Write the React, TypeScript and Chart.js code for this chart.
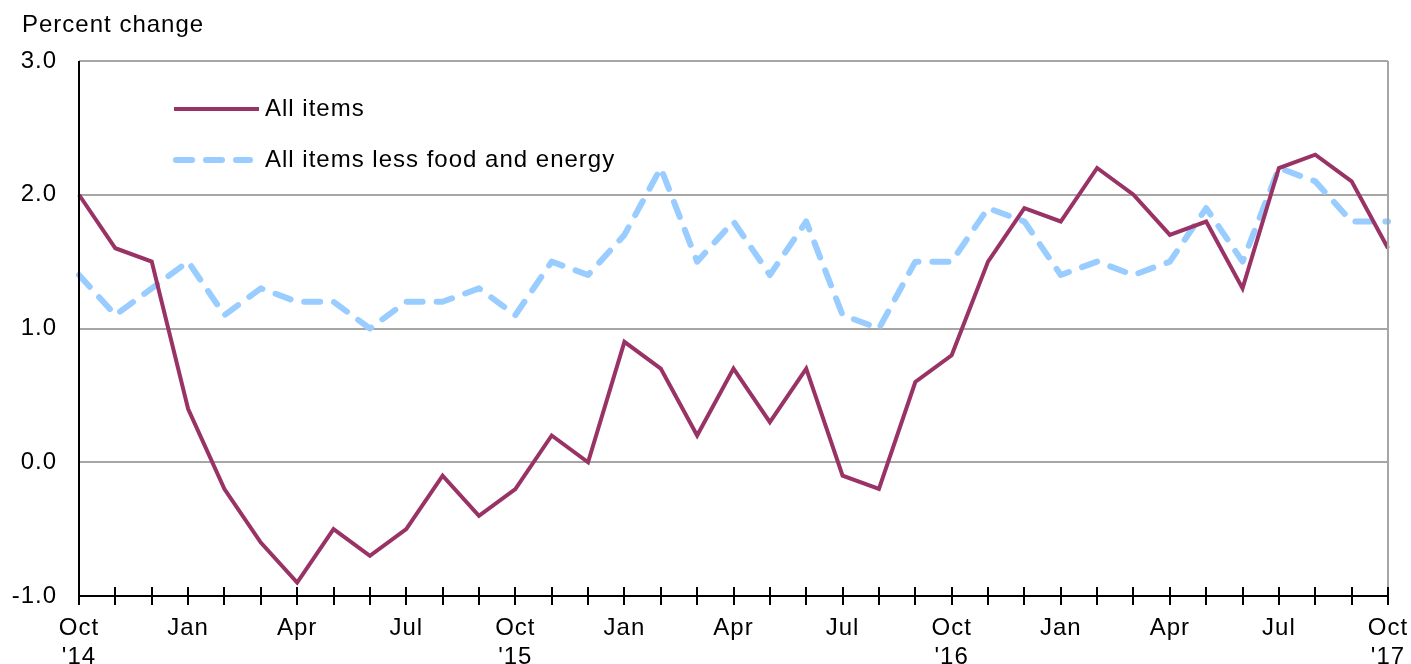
import React, { useEffect, useRef } from "react";
import { Chart, registerables } from "chart.js";

Chart.register(...registerables);

const categories = [
  "2014-10", "2014-11", "2014-12",
  "2015-01", "2015-02", "2015-03", "2015-04", "2015-05", "2015-06",
  "2015-07", "2015-08", "2015-09", "2015-10", "2015-11", "2015-12",
  "2016-01", "2016-02", "2016-03", "2016-04", "2016-05", "2016-06",
  "2016-07", "2016-08", "2016-09", "2016-10", "2016-11", "2016-12",
  "2017-01", "2017-02", "2017-03", "2017-04", "2017-05", "2017-06",
  "2017-07", "2017-08", "2017-09", "2017-10",
];

const tickLabels: (string | string[])[] = [
  ["Oct", "'14"], "", "",
  "Jan", "", "", "Apr", "", "", "Jul", "", "", ["Oct", "'15"], "", "",
  "Jan", "", "", "Apr", "", "", "Jul", "", "", ["Oct", "'16"], "", "",
  "Jan", "", "", "Apr", "", "", "Jul", "", "", ["Oct", "'17"],
];

const allItems = [
  2.0, 1.6, 1.5,
  0.4, -0.2, -0.6, -0.9, -0.5, -0.7, -0.5, -0.1, -0.4, -0.2, 0.2, 0.0,
  0.9, 0.7, 0.2, 0.7, 0.3, 0.7, -0.1, -0.2, 0.6, 0.8, 1.5, 1.9,
  1.8, 2.2, 2.0, 1.7, 1.8, 1.3, 2.2, 2.3, 2.1, 1.6,
];

const coreItems = [
  1.4, 1.1, 1.3,
  1.5, 1.1, 1.3, 1.2, 1.2, 1.0, 1.2, 1.2, 1.3, 1.1, 1.5, 1.4,
  1.7, 2.2, 1.5, 1.8, 1.4, 1.8, 1.1, 1.0, 1.5, 1.5, 1.9, 1.8,
  1.4, 1.5, 1.4, 1.5, 1.9, 1.5, 2.2, 2.1, 1.8, 1.8,
];

const seriesNames = ["All items", "All items less food and energy"];
const yTitle = "Percent change";

const FONT = "'Liberation Sans', Arial, sans-serif";
const FONT_SIZE = 24;
const MAROON = "#993366";
const LIGHTBLUE = "#99CCFF";

const decorPlugin = {
  id: "decor",
  beforeDraw(chart: any) {
    const ctx = chart.ctx;
    try { ctx.letterSpacing = "1px"; } catch (e) { /* ignore */ }
  },
  afterDraw(chart: any) {
    const ctx = chart.ctx;
    const area = chart.chartArea;
    const xs = chart.scales.x;
    ctx.save();
    // right border
    ctx.strokeStyle = "#a6a6a6";
    ctx.lineWidth = 2;
    ctx.beginPath();
    ctx.moveTo(area.right, area.top);
    ctx.lineTo(area.right, area.bottom);
    ctx.stroke();
    // axes
    ctx.strokeStyle = "#000";
    ctx.lineWidth = 2;
    ctx.beginPath();
    ctx.moveTo(area.left, area.top);
    ctx.lineTo(area.left, area.bottom);
    ctx.moveTo(area.left, area.bottom);
    ctx.lineTo(area.right, area.bottom);
    ctx.stroke();
    // crossing tick marks
    ctx.beginPath();
    for (let i = 0; i < xs.ticks.length; i++) {
      const x = Math.round(xs.getPixelForTick(i));
      ctx.moveTo(x, area.bottom - 9);
      ctx.lineTo(x, area.bottom + 9);
    }
    ctx.stroke();
    // title
    ctx.fillStyle = "#000";
    ctx.font = `${FONT_SIZE}px ${FONT}`;
    ctx.textAlign = "left";
    ctx.textBaseline = "alphabetic";
    ctx.fillText(yTitle, 22, 32);
    // legend
    const ds = chart.data.datasets;
    const rows = [109, 160];
    ds.forEach((d: any, i: number) => {
      const y = rows[i];
      ctx.save();
      ctx.strokeStyle = d.borderColor;
      ctx.lineWidth = d.borderWidth;
      ctx.lineCap = d.borderDash && d.borderDash.length ? "round" : "butt";
      ctx.setLineDash(d.borderDash || []);
      ctx.beginPath();
      ctx.moveTo(i === 0 ? 174 : 176, y);
      ctx.lineTo(i === 0 ? 259 : 250, y);
      ctx.stroke();
      ctx.restore();
      ctx.fillStyle = "#000";
      ctx.font = `${FONT_SIZE}px ${FONT}`;
      ctx.textBaseline = "middle";
      ctx.fillText(d.label, 265, y);
    });
    ctx.restore();
  },
};

export default function App() {
  const ref = useRef<HTMLCanvasElement | null>(null);
  useEffect(() => {
    if (!ref.current) return;
    const chart = new Chart(ref.current, {
      type: "line",
      data: {
        labels: categories,
        datasets: [
          {
            label: seriesNames[0],
            data: allItems,
            borderColor: MAROON,
            borderWidth: 4,
            pointRadius: 0,
            tension: 0,
            order: 1,
          },
          {
            label: seriesNames[1],
            data: coreItems,
            borderColor: LIGHTBLUE,
            borderWidth: 6,
            borderDash: [16, 14],
            borderCapStyle: "round",
            borderJoinStyle: "round",
            pointRadius: 0,
            tension: 0,
            order: 2,
          },
        ] as any,
      },
      options: {
        responsive: false,
        animation: false,
        layout: { padding: { left: 0, right: 23, top: 61, bottom: 0 } },
        plugins: { legend: { display: false }, tooltip: { enabled: false } },
        scales: {
          x: {
            type: "category",
            offset: false,
            grid: { display: false, drawTicks: false },
            border: { display: false },
            afterFit: (s: any) => { s.height = 68; s.paddingLeft = 0; s.paddingRight = 0; },
            ticks: {
              autoSkip: false,
              maxRotation: 0,
              minRotation: 0,
              padding: 18,
              color: "#000",
              font: { family: FONT, size: FONT_SIZE, lineHeight: 1.2 },
              callback: (_v: any, i: number) => tickLabels[i],
            },
          },
          y: {
            min: -1,
            max: 3,
            grid: { color: "#a6a6a6", lineWidth: 2, drawTicks: false },
            border: { display: false },
            afterFit: (s: any) => { s.width = 79; s.paddingTop = 0; s.paddingBottom = 0; },
            ticks: {
              stepSize: 1,
              padding: 22,
              color: "#000",
              font: { family: FONT, size: FONT_SIZE },
              callback: (v: any) => Number(v).toFixed(1),
            },
          },
        },
      },
      plugins: [decorPlugin],
    });
    return () => chart.destroy();
  }, []);
  return (
    <div style={{ position: "fixed", left: 0, top: 0, width: 1411, height: 664, background: "#fff" }}>
      <canvas ref={ref} width={1411} height={664} style={{ width: 1411, height: 664 }} />
    </div>
  );
}
